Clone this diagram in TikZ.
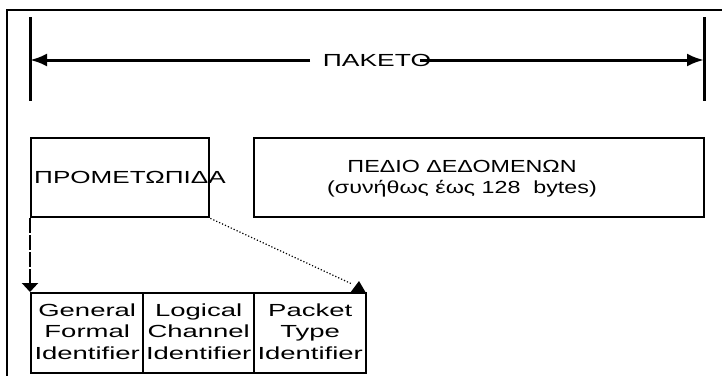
\documentclass[tikz,border=0pt]{standalone}
\usepackage{fontspec}
\setmainfont{Liberation Sans}
\usetikzlibrary{arrows.meta}
\newcommand\wid[2]{\scalebox{#1}[1]{#2}}
\begin{document}
\begin{tikzpicture}[x=1pt,y=-1pt,
  frame/.style={line width=1.2pt},
  bar/.style={line width=3pt},
  mainline/.style={line width=3pt},
  box/.style={draw, line width=2.4pt, inner sep=0pt, anchor=north west},
  txt/.style={font=\fontsize{17.5}{21.5}\selectfont, inner sep=0pt},
  small/.style={font=\fontsize{17.5}{21.5}\selectfont, inner sep=0pt, align=center}
]
\useasboundingbox (0,0) rectangle (722,375);
\fill[white] (0,0) rectangle (722,375);
% frame
\draw[frame] (7,376) -- (7,10) -- (723,10);
% bars
\coordinate (lt) at (30,17); \coordinate (lb) at (30,101);
\coordinate (rt) at (704,17); \coordinate (rb) at (704,101);
\draw[bar] (lt) -- (lb);
\draw[bar] (rt) -- (rb);
% packet label and arrows
\node[txt] (pk) at (377,60) {\wid{1.51}{ΠΑΚΕΤΟ}};
\coordinate (la) at (30,60); \coordinate (ra) at (704,60);
\coordinate (ls) at (310,60); \coordinate (rs) at (420,60);
\draw[mainline,-{Latex[length=17pt,width=13pt]}] (ls) -- (la);
\draw[mainline,-{Latex[length=17pt,width=13pt]}] (rs) -- (ra);
% header and data boxes
\node[box, minimum width=178pt, minimum height=79pt] (hdr) at (30,137) {};
\node[txt, anchor=west] (hdrt) at ([xshift=4pt]hdr.west) {\wid{1.49}{ΠΡΟΜΕΤΩΠΙΔΑ}};
\node[box, minimum width=450pt, minimum height=79pt] (data) at (253,137) {};
\node[txt] (d1) at (462,166) {\wid{1.33}{ΠΕΔΙΟ ΔΕΔΟΜΕΝΩΝ}};
\node[txt] (d2) at (462,189) {\wid{1.33}{(συνήθως έως 128\ \ bytes)}};
% bottom boxes
\node[box, minimum width=112pt, minimum height=80pt] (gfi) at (30,292) {};
\node[box, minimum width=111pt, minimum height=80pt] (lci) at (142,292) {};
\node[box, minimum width=112pt, minimum height=80pt] (pti) at (253,292) {};
\node[small] (gfit) at (gfi.center) {\wid{1.57}{\begin{tabular}{@{}c@{}}General\\Formal\\Identifier\end{tabular}}};
\node[small] (lcit) at (lci.center) {\wid{1.57}{\begin{tabular}{@{}c@{}}Logical\\Channel\\Identifier\end{tabular}}};
\node[small] (ptit) at (pti.center) {\wid{1.57}{\begin{tabular}{@{}c@{}}Packet\\Type\\Identifier\end{tabular}}};
% connectors
\draw[line width=2.4pt, dash pattern=on 15pt off 2pt, -{Triangle[length=9pt,width=16pt]}] (hdr.south west) -- (gfi.north west);
\coordinate (dotend) at (352,284);
\draw[line width=1.2pt, dotted] (hdr.south east) -- (dotend);
\fill (350,293) -- (359,281) -- (366,293) -- cycle;
\end{tikzpicture}
\end{document}
